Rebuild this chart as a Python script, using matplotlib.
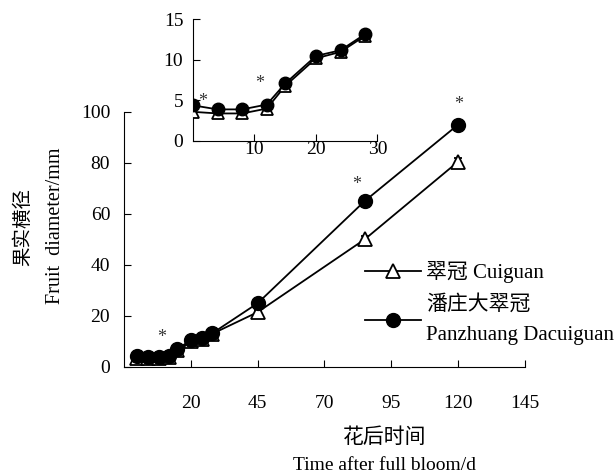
import matplotlib
matplotlib.use("Agg")
import matplotlib.pyplot as plt

plt.rcParams['font.family'] = ['Liberation Serif', 'Noto Sans CJK SC']

# 花后天数
days = [0, 4, 8, 12, 15, 20, 24, 28, 45, 85, 120]
# 果实横径 (mm)
cuiguan = [3.6, 3.4, 3.4, 4.0, 6.8, 10.2, 11.0, 13.0, 21.5, 50.0, 80.5]
cuiguan_err = [0.3, 0.2, 0.2, 0.3, 0.4, 0.4, 0.5, 0.5, 1.0, 1.5, 1.5]
panzhuang = [4.4, 3.9, 3.9, 4.5, 7.1, 10.5, 11.2, 13.2, 25.0, 65.0, 95.0]
panzhuang_err = [0.3, 0.2, 0.2, 0.3, 0.4, 0.4, 0.5, 0.5, 1.0, 1.5, 1.2]

# 小图只显示前30天
n_inset = 8

# 显著性标记 (x, y)
stars_main = [(9, 11.5), (82, 71.5), (120, 103)]
stars_inset = [(1.5, 4.9), (10.8, 7.1)]

main_xticks = [20, 45, 70, 95, 120, 145]
main_yticks = [0, 20, 40, 60, 80, 100]
inset_xticks = [10, 20, 30]
inset_yticks = [0, 5, 10, 15]

fig = plt.figure(figsize=(6.14, 4.76), dpi=100)
ax = fig.add_axes([0.202, 0.229, 0.653, 0.536])
axi = fig.add_axes([0.3143, 0.7038, 0.3005, 0.2553])


def draw(a, n, ms_t, ms_c):
    e1 = a.errorbar(days[:n], cuiguan[:n], yerr=cuiguan_err[:n], color='black', lw=1.3,
                    marker='^', ms=ms_t, mfc='white', mec='black', mew=1.3,
                    capsize=3, elinewidth=1, zorder=3)
    e2 = a.errorbar(days[:n], panzhuang[:n], yerr=panzhuang_err[:n], color='black', lw=1.3,
                    marker='o', ms=ms_c, mfc='black', mec='black',
                    capsize=3, elinewidth=1, zorder=4)
    for s in ['top', 'right']:
        a.spines[s].set_visible(False)
    a.tick_params(direction='in', length=5, width=0.8, labelsize=14)
    return e1, e2


e1, e2 = draw(ax, len(days), 10.5, 10)
ax.set_xlim(-5, 145)
ax.set_ylim(0, 100)
ax.set_xticks(main_xticks)
ax.set_yticks(main_yticks)
ax.tick_params(axis='x', pad=20)
ax.tick_params(axis='y', pad=10)
for x, y in stars_main:
    ax.text(x, y, '*', ha='center', va='center', fontsize=13, color='#333333', clip_on=False)

draw(axi, n_inset, 8.5, 9)
axi.set_xlim(0, 30)
axi.set_ylim(0, 15)
axi.set_xticks(inset_xticks)
axi.set_yticks(inset_yticks)
axi.tick_params(axis='x', pad=0)
axi.tick_params(axis='y', pad=7)
for x, y in stars_inset:
    axi.text(x, y, '*', ha='center', va='center', fontsize=13, color='#333333')

leg = fig.legend([e1.lines[0], e2.lines[0]],
                 ['翠冠 Cuiguan', '潘庄大翠冠\nPanzhuang Dacuiguan'],
                 loc='upper left', bbox_to_anchor=(0.594, 0.452),
                 frameon=False, fontsize=15, handlelength=2.7, handletextpad=0.25,
                 labelspacing=0.6, borderpad=0, borderaxespad=0)
for t in leg.get_texts():
    t.set_linespacing(1.75)

fig.text(0.037, 0.523, '果实横径', rotation=90, ha='center', va='center', fontsize=14)
fig.text(0.090, 0.525, 'Fruit  diameter/mm', rotation=90, ha='center', va='center', fontsize=14.5)
fig.text(0.627, 0.08, '花后时间', ha='center', va='center', fontsize=15)
fig.text(0.627, 0.023, 'Time after full bloom/d', ha='center', va='center', fontsize=14)

fig.savefig('out.png', dpi=100)
